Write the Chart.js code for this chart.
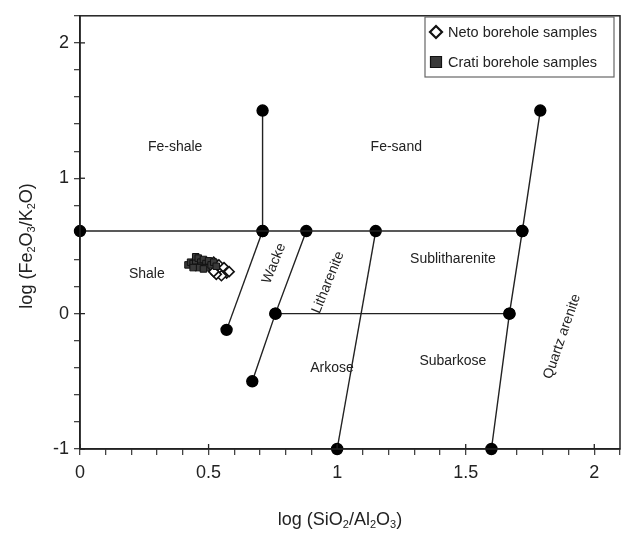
<!DOCTYPE html>
<html>
<head>
<meta charset="utf-8">
<script src="https://cdn.jsdelivr.net/npm/chart.js@4/dist/chart.umd.min.js"></script>
<style>
  html, body { margin: 0; padding: 0; background: #fff; }
  #wrap { width: 627px; height: 537px; }
</style>
</head>
<body>
<div id="wrap"><canvas id="herron"></canvas></div>
<script>
// Sample data: log(SiO2/Al2O3) vs log(Fe2O3/K2O)
const netoX = [0.51, 0.52, 0.53, 0.54, 0.55, 0.56, 0.57, 0.55, 0.53, 0.52, 0.58];
const netoY = [0.35, 0.38, 0.32, 0.36, 0.31, 0.34, 0.30, 0.28, 0.29, 0.31, 0.31];
const cratiX = [0.42, 0.43, 0.44, 0.45, 0.45, 0.46, 0.47, 0.47, 0.48, 0.49, 0.49, 0.50, 0.51, 0.52, 0.46, 0.48, 0.44, 0.53];
const cratiY = [0.36, 0.38, 0.37, 0.39, 0.42, 0.41, 0.38, 0.35, 0.40, 0.37, 0.34, 0.39, 0.36, 0.38, 0.34, 0.33, 0.34, 0.35];

// Herron (1988) field boundaries
const feLine = [[0, 0.61], [1.72, 0.61]];
const shaleSandLine = [[0.71, 0.61], [0.71, 1.5]];
const wackeLine = [[0.71, 0.61], [0.57, -0.12]];
const litharLine = [[0.88, 0.61], [0.76, 0], [0.67, -0.5]];
const sublithLine = [[1.15, 0.61], [1.0, -1]];
const quartzLine = [[1.79, 1.5], [1.72, 0.61], [1.67, 0], [1.6, -1]];
const subarkLine = [[0.76, 0], [1.67, 0]];

// Field names: [text, x, y, rotation in degrees]
const fieldLabels = [
    ["Fe-shale", 0.37, 1.23, 0],
    ["Fe-sand", 1.23, 1.23, 0],
    ["Shale", 0.26, 0.29, 0],
    ["Sublitharenite", 1.45, 0.40, 0],
    ["Subarkose", 1.45, -0.35, 0],
    ["Arkose", 0.98, -0.40, 0],
    ["Wacke", 0.755, 0.37, -68],
    ["Litharenite", 0.965, 0.23, -68],
    ["Quartz arenite", 1.875, -0.17, -71]
];

const xTitle = [["log (SiO", 0], ["2", 1], ["/Al", 0], ["2", 1], ["O", 0], ["3", 1], [")", 0]];
const yTitle = [["log (Fe", 0], ["2", 1], ["O", 0], ["3", 1], ["/K", 0], ["2", 1], ["O)", 0]];

const FONT = "'Liberation Sans', Arial, sans-serif";

function toPoints(seg) {
    return seg.map(p => ({ x: p[0], y: p[1] }));
}

function zip(xs, ys) {
    return xs.map((x, i) => ({ x: x, y: ys[i] }));
}

function lineSet(seg) {
    return {
        type: 'line',
        data: toPoints(seg),
        borderColor: '#222',
        borderWidth: 1.4,
        pointRadius: 5.5,
        pointBackgroundColor: '#000',
        pointBorderColor: '#000',
        pointHoverRadius: 5.5,
        fill: false,
        tension: 0,
        clip: false,
        isBoundary: true
    };
}

function drawParts(ctx, parts, size) {
    const subSize = Math.round(size * 0.62);
    let total = 0;
    parts.forEach(p => {
        ctx.font = (p[1] ? subSize : size) + "px " + FONT;
        total += ctx.measureText(p[0]).width;
    });
    let x = -total / 2;
    parts.forEach(p => {
        ctx.font = (p[1] ? subSize : size) + "px " + FONT;
        ctx.fillText(p[0], x, p[1] ? size * 0.28 : 0);
        x += ctx.measureText(p[0]).width;
    });
}

const decorPlugin = {
    id: 'decor',
    afterDatasetsDraw(chart) {
        const ctx = chart.ctx;
        const a = chart.chartArea;
        const xs = chart.scales.x, ys = chart.scales.y;
        ctx.save();

        // frame
        ctx.strokeStyle = '#222';
        ctx.lineWidth = 1.5;
        ctx.strokeRect(a.left, a.top, a.right - a.left, a.bottom - a.top);

        // major ticks poke into the plot a little
        ctx.lineWidth = 1.3;
        [0, 0.5, 1, 1.5, 2].forEach(v => {
            const px = xs.getPixelForValue(v);
            ctx.beginPath(); ctx.moveTo(px, a.bottom); ctx.lineTo(px, a.bottom - 5); ctx.stroke();
        });
        [-1, 0, 1, 2].forEach(v => {
            const py = ys.getPixelForValue(v);
            ctx.beginPath(); ctx.moveTo(a.left, py); ctx.lineTo(a.left + 5, py); ctx.stroke();
        });

        // field names
        ctx.fillStyle = '#222';
        ctx.font = "14px " + FONT;
        ctx.textAlign = 'center';
        ctx.textBaseline = 'middle';
        fieldLabels.forEach(l => {
            ctx.save();
            ctx.translate(xs.getPixelForValue(l[1]), ys.getPixelForValue(l[2]));
            ctx.rotate(l[3] * Math.PI / 180);
            ctx.fillText(l[0], 0, 0);
            ctx.restore();
        });

        // legend box
        const lx = 425, ly = 17, lw = 189, lh = 60;
        ctx.fillStyle = '#fff';
        ctx.fillRect(lx, ly, lw, lh);
        ctx.strokeStyle = '#666';
        ctx.lineWidth = 1.2;
        ctx.strokeRect(lx, ly, lw, lh);
        ctx.font = "14.5px " + FONT;
        ctx.textAlign = 'left';
        ctx.fillStyle = '#222';
        const samples = chart.data.datasets.filter(d => !d.isBoundary).reverse();
        samples.forEach((d, i) => {
            const cy = ly + 15 + i * 30;
            const cx = lx + 11;
            ctx.beginPath();
            if (d.pointStyle === 'rectRot') {
                ctx.moveTo(cx, cy - 6); ctx.lineTo(cx + 6, cy); ctx.lineTo(cx, cy + 6); ctx.lineTo(cx - 6, cy); ctx.closePath();
                ctx.fillStyle = '#fff'; ctx.fill();
                ctx.lineWidth = 2.2; ctx.strokeStyle = '#111'; ctx.stroke();
            } else {
                ctx.rect(cx - 5.5, cy - 5.5, 11, 11);
                ctx.fillStyle = '#3a3a3a'; ctx.fill();
                ctx.lineWidth = 1.2; ctx.strokeStyle = '#111'; ctx.stroke();
            }
            ctx.fillStyle = '#222';
            ctx.fillText(d.label, lx + 23, cy + 1);
        });

        // axis titles with subscripts
        ctx.fillStyle = '#222';
        ctx.textAlign = 'left';
        ctx.textBaseline = 'middle';
        ctx.save();
        ctx.translate((a.left + a.right) / 2 - 10, 520);
        drawParts(ctx, xTitle, 18);
        ctx.restore();
        ctx.save();
        ctx.translate(27, ys.getPixelForValue(0.5));
        ctx.rotate(-Math.PI / 2);
        drawParts(ctx, yTitle, 18);
        ctx.restore();

        ctx.restore();
    }
};

function isMult(v, step) {
    const r = v / step;
    return Math.abs(r - Math.round(r)) < 1e-6;
}

createChart();

function createChart() {
    const ctx = document.getElementById('herron').getContext('2d');
    new Chart(ctx, {
        type: 'scatter',
        data: {
            datasets: [
                lineSet(feLine),
                lineSet(shaleSandLine),
                lineSet(wackeLine),
                lineSet(litharLine),
                lineSet(sublithLine),
                lineSet(quartzLine),
                lineSet(subarkLine),
                {
                    label: "Crati borehole samples",
                    data: zip(cratiX, cratiY),
                    pointStyle: 'rect',
                    pointRadius: 4.6,
                    backgroundColor: '#3a3a3a',
                    borderColor: '#111',
                    borderWidth: 1
                },
                {
                    label: "Neto borehole samples",
                    data: zip(netoX, netoY),
                    pointStyle: 'rectRot',
                    pointRadius: 5,
                    backgroundColor: '#fff',
                    borderColor: '#111',
                    borderWidth: 1.6
                }
            ]
        },
        options: {
            responsive: true,
            maintainAspectRatio: false,
            animation: false,
            layout: { padding: { top: 10, right: 4, left: 0, bottom: 0 } },
            plugins: {
                legend: { display: false },
                tooltip: { enabled: false }
            },
            scales: {
                x: {
                    type: 'linear',
                    min: 0,
                    max: 2.1,
                    afterFit: s => { s.height = 88; },
                    border: { display: true, color: '#222', width: 1.5 },
                    grid: { drawOnChartArea: false, drawTicks: true, tickLength: 6, color: '#444', lineWidth: 1.3 },
                    ticks: {
                        stepSize: 0.1,
                        autoSkip: false,
                        maxRotation: 0,
                        padding: 7,
                        color: '#222',
                        font: { family: FONT, size: 18 },
                        callback: v => isMult(v, 0.5) ? String(Math.round(v * 2) / 2) : ''
                    }
                },
                y: {
                    type: 'linear',
                    min: -1,
                    max: 2.2,
                    afterFit: s => { s.width = 80; },
                    border: { display: true, color: '#222', width: 1.5 },
                    grid: { drawOnChartArea: false, drawTicks: true, tickLength: 6, color: '#444', lineWidth: 1.3 },
                    ticks: {
                        stepSize: 0.2,
                        autoSkip: false,
                        padding: 5,
                        color: '#222',
                        font: { family: FONT, size: 18 },
                        callback: v => isMult(v, 1) ? String(Math.round(v)) : ''
                    }
                }
            }
        },
        plugins: [decorPlugin]
    });
}
</script>
</body>
</html>
